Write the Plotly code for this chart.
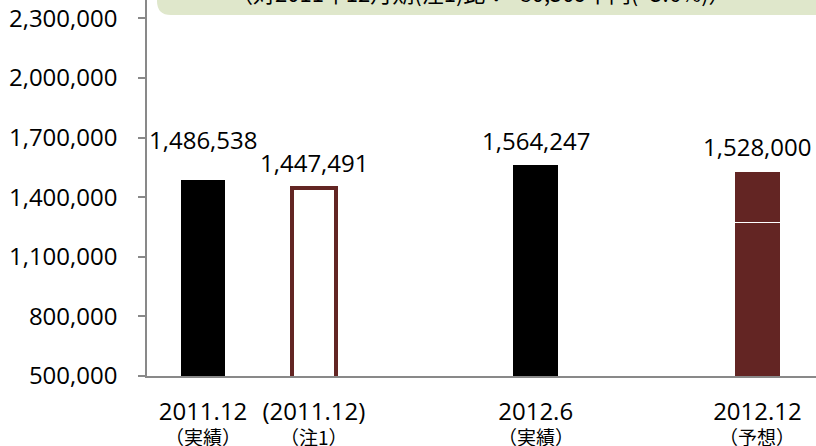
import plotly.graph_objects as go

# ---- data ----
categories = ["2011.12", "(2011.12)", "2012.6", "2012.12"]
sub_labels = ["（実績）", "（注1）", "（実績）", "（予想）"]
values = [1486538, 1447491, 1564247, 1528000]
forecast_lower = 1274000          # lower segment of the 2012.12 forecast bar
forecast_upper = values[3] - forecast_lower
callout_text = "（対2011年12月期(注1)比：+80,509千円(+5.6%)）"
y_ticks = [500000, 800000, 1100000, 1400000, 1700000, 2000000, 2300000]

# ---- layout constants ----
x_pos = [0, 0.5, 1.5, 2.5]
label_shift = [40, 25, 24, 25]
BLACK = "#000000"
MAROON = "#632523"
GRAY = "#898989"
FONT = "Open Sans"
CJK = "Noto Sans CJK JP"

fig = go.Figure()
fig.add_trace(go.Bar(x=[x_pos[0], x_pos[2]], y=[values[0], values[2]], width=0.2,
                     marker=dict(color=BLACK, line=dict(width=0)), hoverinfo="skip"))
fig.add_trace(go.Bar(x=[x_pos[1]], y=[values[1]], width=0.2,
                     marker=dict(color="white", line=dict(color=MAROON, width=4)), hoverinfo="skip"))
fig.add_trace(go.Bar(x=[x_pos[3]], y=[forecast_lower], width=0.21,
                     marker=dict(color=MAROON, line=dict(color="white", width=1.2)), hoverinfo="skip"))
fig.add_trace(go.Bar(x=[x_pos[3]], y=[forecast_upper], width=0.21,
                     marker=dict(color=MAROON, line=dict(color="white", width=1.2)), hoverinfo="skip"))

annotations = []
for xp, v, s in zip(x_pos, values, label_shift):
    annotations.append(dict(x=xp, y=v, xref="x", yref="y", text=f"{v:,}", showarrow=False,
                            yanchor="middle", yshift=s, font=dict(family=FONT, size=24, color="black")))
for xp, t in zip(x_pos, sub_labels):
    annotations.append(dict(x=xp, y=-(436 - 376) / 376, xref="x", yref="paper", text=t, showarrow=False,
                            yanchor="middle", borderpad=0,
                            font=dict(family=CJK, size=19, color="black")))
annotations.append(dict(x=(229 - 147) / 669, y=(376 + 8) / 376, xref="paper", yref="paper",
                        text=callout_text, showarrow=False, xanchor="left", yanchor="middle",
                        font=dict(family=CJK, size=22, color="black")))

# callout box (rounded bottom-left corner)
x0, x1 = (157 - 147) / 669, 1.05
y0, y1 = (376 - 15) / 376, 1.2
rx, ry = 14 / 669, 14 / 376
path = (f"M {x0},{y1} L {x0},{y0 + ry} Q {x0},{y0} {x0 + rx},{y0} "
        f"L {x1},{y0} L {x1},{y1} Z")
shapes = [dict(type="path", xref="paper", yref="paper", path=path,
               fillcolor="#DFE7CB", line=dict(width=0), layer="above")]

fig.update_layout(
    width=816, height=446,
    margin=dict(l=147, r=0, t=0, b=70),
    paper_bgcolor="white", plot_bgcolor="white",
    barmode="stack", showlegend=False,
    annotations=annotations, shapes=shapes,
    xaxis=dict(range=[-0.2525, 2.764], tickmode="array", tickvals=x_pos, ticktext=categories,
               tickfont=dict(family=FONT, size=24, color="black"), ticks="",
               showline=True, linecolor=GRAY, linewidth=1.5, showgrid=False, zeroline=False,
               ticklabelstandoff=13),
    yaxis=dict(range=[500000, 2392000], tickmode="array", tickvals=y_ticks,
               ticktext=[f"{t:,}" for t in y_ticks],
               tickfont=dict(family=FONT, size=24, color="black"),
               ticks="outside", ticklen=7, tickcolor=GRAY, tickwidth=1.5,
               showline=True, linecolor=GRAY, linewidth=1.5, showgrid=False, zeroline=False,
               ticklabelstandoff=16),
)

fig.write_html("out.html", config={"displayModeBar": False},
               post_script="document.body.style.margin='0';document.body.style.overflow='hidden';")
